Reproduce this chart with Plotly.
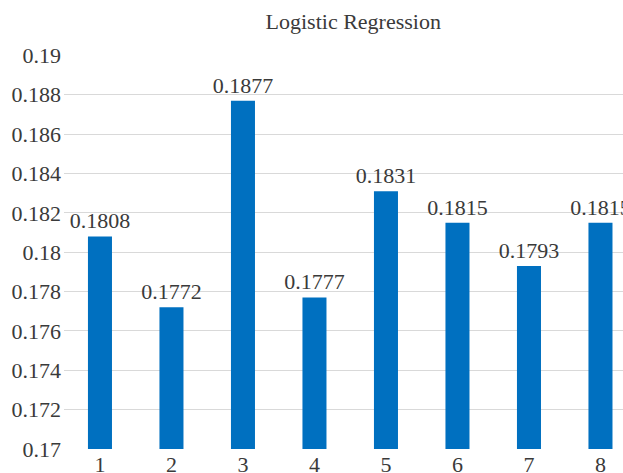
import plotly.graph_objects as go

categories = ["1", "2", "3", "4", "5", "6", "7", "8"]
values = [0.1808, 0.1772, 0.1877, 0.1777, 0.1831, 0.1815, 0.1793, 0.1815]
y_ticks = [0.17, 0.172, 0.174, 0.176, 0.178, 0.18, 0.182, 0.184, 0.186, 0.188, 0.19]
y_tick_labels = ["0.17", "0.172", "0.174", "0.176", "0.178", "0.18", "0.182", "0.184", "0.186", "0.188", "0.19"]

FONT = "Liberation Serif"
TEXT_COLOR = "#3a3a3a"
positions = list(range(len(categories)))

fig = go.Figure(
    go.Bar(
        x=positions,
        y=values,
        width=0.336,
        marker=dict(color="#0070C0", line=dict(width=0)),
        text=[f"{v:.4f}" for v in values],
        textposition="outside",
        constraintext="none",
        textfont=dict(family=FONT, size=22, color=TEXT_COLOR),
        cliponaxis=False,
    )
)

fig.update_layout(
    width=623,
    height=473,
    margin=dict(l=64, r=0, t=55, b=24, autoexpand=False),
    paper_bgcolor="white",
    plot_bgcolor="white",
    showlegend=False,
    font=dict(family=FONT, size=22, color=TEXT_COLOR),
    title=dict(
        text="Logistic Regression",
        x=0.567,
        xanchor="center",
        y=0.956,
        yanchor="middle",
        font=dict(family=FONT, size=22, color=TEXT_COLOR),
    ),
    xaxis=dict(
        range=[-0.503, 7.315],
        tickmode="array",
        tickvals=positions,
        ticktext=categories,
        showgrid=False,
        zeroline=False,
        showline=False,
        ticks="",
        automargin=False,
        tickfont=dict(family=FONT, size=22, color=TEXT_COLOR),
    ),
    yaxis=dict(
        range=[0.17, 0.19002],
        tickmode="array",
        tickvals=y_ticks,
        ticktext=y_tick_labels,
        showgrid=True,
        gridcolor="#D9D9D9",
        gridwidth=1,
        zeroline=False,
        showline=False,
        ticks="",
        automargin=False,
        ticklabelstandoff=2,
        tickfont=dict(family=FONT, size=22, color=TEXT_COLOR),
    ),
)

fig.write_html("out.html")
